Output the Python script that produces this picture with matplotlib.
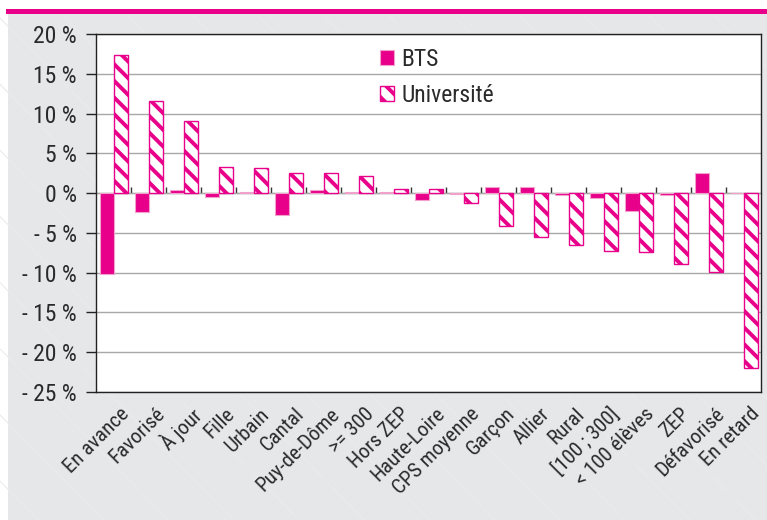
import matplotlib
matplotlib.use("Agg")
import matplotlib.pyplot as plt
import numpy as np
from matplotlib import font_manager as fm
from matplotlib.patches import Rectangle
from matplotlib.lines import Line2D
from matplotlib.ticker import FuncFormatter, FixedLocator

categories = ["En avance", "Favorisé", "À jour", "Fille", "Urbain", "Cantal",
              "Puy-de-Dôme", ">= 300", "Hors ZEP", "Haute-Loire", "CPS moyenne",
              "Garçon", "Allier", "Rural", "[100 ; 300]", "< 100 élèves", "ZEP",
              "Défavorisé", "En retard"]
bts = [-10.2, -2.4, 0.4, -0.45, 0.1, -2.7, 0.35, 0.2, 0.1, -0.9, -0.1,
       0.8, 0.75, -0.25, -0.6, -2.3, -0.2, 2.5, 0.05]
universite = [17.4, 11.6, 9.1, 3.3, 3.2, 2.5, 2.5, 2.2, 0.55, 0.55, -1.3,
              -4.1, -5.5, -6.5, -7.3, -7.4, -8.9, -9.9, -22.0]
y_ticks = [20, 15, 10, 5, 0, -5, -10, -15, -20, -25]
series_names = ["BTS", "Université"]

MAGENTA = "#e8008a"
TEXT = "#2a2a2a"
PANEL = "#e6e7e9"

# narrow sans-serif face if one is available
available = {f.name for f in fm.fontManager.ttflist}
FONT = next((n for n in ["Roboto Condensed", "Liberation Sans Narrow", "Archivo Narrow",
                         "PT Sans Narrow", "Fira Sans Condensed"] if n in available),
            "DejaVu Sans")
plt.rcParams["font.family"] = [FONT, "DejaVu Sans"]
plt.rcParams["hatch.linewidth"] = 2.8
FS = 17
FS_X = 15

fig = plt.figure(figsize=(7.67, 5.20), dpi=100)
fig.patch.set_facecolor("white")

# grey panel with a faint diagonal texture, and the magenta header rule
fig.patches.append(Rectangle((0.0104, 0), 1 - 0.0104, 0.9725,
                             transform=fig.transFigure, facecolor=PANEL,
                             edgecolor="none", zorder=0))
for x0 in np.arange(-0.6, 1.2, 0.085):
    fig.add_artist(Line2D([x0, x0 + 0.65], [0.9725, 0.0], transform=fig.transFigure,
                          color="#ebebec", lw=0.8, zorder=0.5))
fig.patches.append(Rectangle((0.0074, 0.9725), 1 - 0.0074, 0.0096,
                             transform=fig.transFigure, facecolor=MAGENTA,
                             edgecolor="none", zorder=1))

ax = fig.add_axes([0.1252, 0.2467, 0.867, 0.6873])
ax.set_facecolor("white")
ax.set_zorder(2)

x = np.arange(len(categories))
w = 0.4
b1 = ax.bar(x - w / 2, bts, width=w, color=MAGENTA, edgecolor="#f2a0cc",
            linewidth=0.8, label=series_names[0], zorder=3)
b2 = ax.bar(x + w / 2, universite, width=w, facecolor="white", edgecolor=MAGENTA,
            hatch="\\\\", linewidth=1.0, label=series_names[1], zorder=3)

ax.set_xlim(-0.5, len(categories) - 0.5)
ax.set_ylim(min(y_ticks), max(y_ticks))
ax.yaxis.set_major_locator(FixedLocator(y_ticks))
ax.yaxis.set_major_formatter(FuncFormatter(
    lambda v, p: f"{int(v)} %" if v >= 0 else f"- {int(abs(v))} %"))
ax.tick_params(axis="y", length=7, width=1, color="#222222", pad=7,
               labelsize=FS, labelcolor=TEXT)
ax.grid(axis="y", color="#a8a8a8", lw=1.0, zorder=1)
ax.set_axisbelow(True)
for s in ax.spines.values():
    s.set_color("#222222")
    s.set_linewidth(1.0)

# category labels below the plot, slanted
ax.set_xticks([])
for xi, lab in zip(x, categories):
    ax.text(xi + 0.18, -0.035, lab, transform=ax.get_xaxis_transform(),
            rotation=45, rotation_mode="anchor", ha="right", va="top",
            fontsize=FS_X, color=TEXT)

# zero line with tick marks between categories
sec = ax.secondary_xaxis((0 - min(y_ticks)) / (max(y_ticks) - min(y_ticks)))
sec.set_xticks(x[:-1] + 0.5)
sec.set_xticklabels([])
sec.tick_params(axis="x", direction="out", length=4, width=1, color="#333333")
sec.spines["bottom"].set_color("#111111")
sec.spines["bottom"].set_linewidth(1.0)
sec.spines["bottom"].set_zorder(4)

leg = ax.legend(loc="upper left", bbox_to_anchor=(0.427, 0.962), frameon=False,
                fontsize=FS, handlelength=0.6, handleheight=0.6,
                handletextpad=0.3, labelspacing=0.55, borderpad=0,
                borderaxespad=0)
for t in leg.get_texts():
    t.set_color(TEXT)

fig.savefig("out.png", dpi=100)
